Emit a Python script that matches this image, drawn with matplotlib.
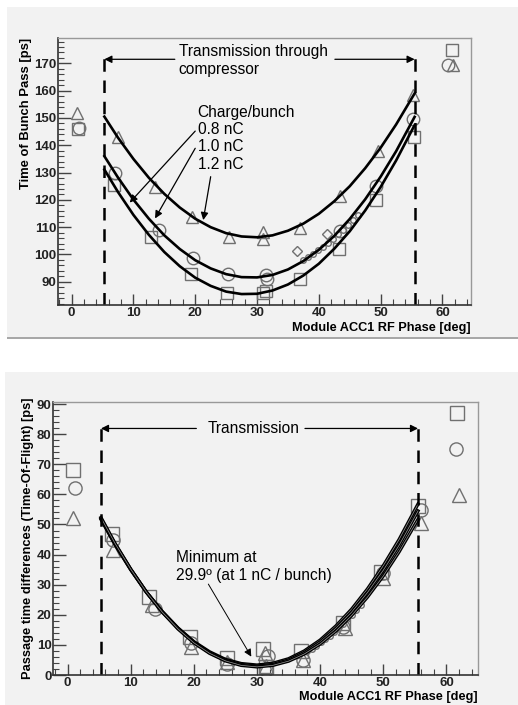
import matplotlib.pyplot as plt
from matplotlib.patches import Rectangle
from matplotlib.ticker import MultipleLocator

plt.rcParams['font.family'] = ['Liberation Sans', 'DejaVu Sans']

# --- upper panel: time of bunch pass ---
sq_x = [1.1, 6.9, 12.8, 19.3, 25.1, 31.0, 31.5, 36.9, 43.3, 49.3, 55.4, 61.5]
sq_y = [145.8, 125.4, 106.5, 92.8, 86.0, 86.0, 86.5, 91.2, 101.9, 119.9, 143.1, 174.9]
ci_x = [1.2, 7.0, 14.2, 19.6, 25.3, 31.5, 31.6, 43.4, 49.2, 55.3, 60.9]
ci_y = [146.2, 129.7, 108.9, 98.8, 92.8, 92.5, 91.2, 108.6, 125.2, 149.6, 169.4]
tr_x = [0.8, 7.5, 13.5, 19.4, 25.5, 31.0, 31.0, 36.9, 43.4, 49.6, 55.3, 61.7]
tr_y = [151.7, 142.9, 124.6, 113.8, 106.3, 108.3, 105.5, 109.8, 121.5, 137.9, 158.4, 169.4]
scan_x = [37.5, 38.3, 39.1, 39.9, 40.7, 41.5, 42.3, 43.1, 43.9, 44.7, 45.5, 46.3]
scan_y = [97.8, 99.0, 100.2, 101.5, 102.9, 104.3, 105.8, 107.4, 109.1, 110.9, 112.7, 114.5]
dia_x = [36.5, 41.3]
dia_y = [101.4, 107.4]

# fitted curves
fit_x = [5.3, 7.5, 10, 12.5, 15, 17.5, 20, 22.5, 25, 27.5, 30,
         32.5, 35, 37.5, 40, 42.5, 45, 47.5, 50, 52.5, 55.5]
fit_08 = [131.1, 122.9, 114.5, 107.2, 100.9, 95.7, 91.5, 88.5, 86.4, 85.5, 85.6,
          86.8, 89.0, 92.3, 96.6, 102.1, 108.5, 116.1, 124.7, 134.4, 147.4]
fit_10 = [136.0, 128.2, 120.1, 113.1, 107.0, 102.0, 97.9, 94.9, 92.8, 91.7, 91.6,
          92.5, 94.5, 97.6, 101.7, 106.8, 113.0, 120.2, 128.5, 137.8, 150.4]
fit_12 = [150.5, 142.8, 135.0, 128.1, 122.2, 117.2, 113.1, 110.0, 107.8, 106.6, 106.3,
          107.0, 108.7, 111.3, 114.9, 119.5, 125.0, 131.6, 139.1, 147.6, 159.0]

# --- lower panel: time-of-flight differences ---
sq2_x = [0.9, 7.0, 12.9, 19.4, 25.2, 31.0, 31.4, 37.0, 43.6, 49.7, 55.5, 61.7]
sq2_y = [68.1, 46.8, 25.8, 12.7, 5.5, 8.5, 2.5, 8.1, 17.2, 34.3, 56.2, 86.9]
ci2_x = [1.2, 7.2, 13.8, 19.6, 25.3, 31.8, 31.4, 37.3, 43.6, 49.9, 55.9, 61.5]
ci2_y = [62.0, 44.8, 21.8, 10.5, 3.7, 6.3, 1.5, 5.0, 16.1, 33.8, 54.8, 75.0]
tr2_x = [0.9, 7.2, 13.3, 19.6, 25.3, 31.2, 31.5, 37.3, 43.9, 50.0, 55.9, 62.0]
tr2_y = [52.0, 41.5, 23.2, 9.4, 4.4, 7.4, 3.0, 5.0, 15.5, 32.1, 50.4, 59.8]
scan2_x = [38.0, 38.7, 39.4, 40.1, 40.8, 41.5, 42.2, 42.9, 43.6, 44.3, 45.0, 45.7, 46.4]
scan2_y = [8.0, 8.8, 9.8, 10.8, 11.9, 13.1, 14.3, 15.6, 17.0, 18.5, 20.0, 21.6, 23.3]
tof_a = [51.7, 43.4, 35.0, 27.5, 21.1, 15.6, 11.1, 7.7, 5.2, 3.8, 3.3,
         3.9, 5.4, 8.0, 11.6, 16.3, 21.9, 28.6, 36.3, 45.0, 56.8]
tof_b = [52.0, 43.6, 35.1, 27.5, 21.0, 15.5, 10.9, 7.4, 4.9, 3.5, 3.0,
         3.5, 5.0, 7.5, 11.0, 15.5, 20.9, 27.4, 34.8, 43.1, 54.5]
tof_c = [52.3, 43.8, 35.2, 27.5, 20.9, 15.3, 10.7, 7.2, 4.7, 3.2, 2.7,
         3.2, 4.6, 7.0, 10.3, 14.6, 19.8, 25.9, 32.9, 40.9, 51.7]

edge_lo, edge_hi = 5.3, 55.5
mc = '#707070'
bg = '#f2f2f2'

fig = plt.figure(figsize=(5.18, 7.05), dpi=100)
fig.patches.append(Rectangle((0.0135, 0.5206), 0.9865, 0.4695, transform=fig.transFigure,
                             facecolor=bg, edgecolor='none', zorder=-10))
fig.patches.append(Rectangle((0.0135, 0.5192), 0.9865, 0.0025, transform=fig.transFigure,
                             facecolor='#a8a8a8', edgecolor='none', zorder=-10))
fig.patches.append(Rectangle((0.0097, 0.0), 0.9903, 0.4723, transform=fig.transFigure,
                             facecolor=bg, edgecolor='none', zorder=-10))

ax1 = fig.add_axes([0.112, 0.5674, 0.797, 0.3787])
ax2 = fig.add_axes([0.1023, 0.04255, 0.8205, 0.3877])


def style_axes(ax, xlab_y, xlab_va):
    ax.set_facecolor(bg)
    for s in ['left', 'bottom']:
        ax.spines[s].set_color('#333333')
        ax.spines[s].set_linewidth(1.2)
    for s in ['top', 'right']:
        ax.spines[s].set_color('#999999')
        ax.spines[s].set_linewidth(1.0)
    ax.xaxis.set_major_locator(MultipleLocator(10))
    ax.xaxis.set_minor_locator(MultipleLocator(2))
    ax.yaxis.set_major_locator(MultipleLocator(10))
    ax.yaxis.set_minor_locator(MultipleLocator(2))
    ax.tick_params(which='both', direction='in', top=False, right=False, color='#444444')
    ax.tick_params(axis='y', which='major', length=9, width=1.0, pad=1)
    ax.tick_params(axis='y', which='minor', length=4.5, width=0.8)
    ax.tick_params(axis='x', which='major', length=8, width=1.0, pad=1.5)
    ax.tick_params(axis='x', which='minor', length=4, width=0.8)
    for lab in ax.get_xticklabels() + ax.get_yticklabels():
        lab.set_fontweight('bold')
        lab.set_fontsize(9.5)
        lab.set_color('#222222')
    ax.set_xlabel('Module ACC1 RF Phase [deg]', fontsize=9.2, fontweight='bold',
                  ha='right', va=xlab_va)
    ax.xaxis.set_label_coords(1.0, xlab_y)


def arrow(ax, start, end, lw=0.9):
    ax.annotate('', xy=end, xytext=start,
                arrowprops=dict(arrowstyle='-|>', color='k', lw=lw,
                                mutation_scale=11, shrinkA=0, shrinkB=0))


mk = dict(linestyle='none', markerfacecolor='none', markeredgecolor=mc, markeredgewidth=1.0)

# upper panel
ax1.plot(sq_x, sq_y, marker='s', markersize=9, **mk)
ax1.plot(ci_x, ci_y, marker='o', markersize=9, **mk)
ax1.plot(tr_x, tr_y, marker='^', markersize=9, **mk)
ax1.plot(scan_x, scan_y, marker='o', markersize=4, **mk)
ax1.plot(dia_x, dia_y, marker='D', markersize=5, **mk)
for y in [fit_08, fit_10, fit_12]:
    ax1.plot(fit_x, y, color='k', lw=1.9)
for xv in [edge_lo, edge_hi]:
    ax1.plot([xv, xv], [81.5, 173.7], color='k', lw=1.8, dashes=(5, 3.5))
arrow(ax1, (16.7, 171.5), (edge_lo, 171.5))
arrow(ax1, (42.6, 171.5), (edge_hi, 171.5))
ax1.text(17.3, 174.3, 'Transmission through', fontsize=11.2, va='center', ha='left')
ax1.text(17.3, 167.8, 'compressor', fontsize=11.2, va='center', ha='left')
for txt, yy in [('Charge/bunch', 151.9), ('0.8 nC', 145.6), ('1.0 nC', 139.5), ('1.2 nC', 133.0)]:
    ax1.text(20.4, yy, txt, fontsize=11.2, va='center', ha='left')
arrow(ax1, (20.0, 145.2), (9.4, 119.0))
arrow(ax1, (20.0, 138.9), (13.5, 113.2))
arrow(ax1, (22.5, 128.5), (21.3, 112.6))
ax1.set_xlim(-2.2, 64.6)
ax1.set_ylim(81.5, 179.3)
style_axes(ax1, -0.063, 'top')
ax1.set_ylabel('Time of Bunch Pass [ps]', fontsize=9.4, fontweight='bold', loc='top', labelpad=2)

# lower panel
ax2.plot(sq2_x, sq2_y, marker='s', markersize=9.5, **mk)
ax2.plot(ci2_x, ci2_y, marker='o', markersize=9.5, **mk)
ax2.plot(tr2_x, tr2_y, marker='^', markersize=9.5, **mk)
ax2.plot(scan2_x, scan2_y, marker='o', markersize=4, **mk)
for y in [tof_a, tof_b, tof_c]:
    ax2.plot(fit_x, y, color='k', lw=2.4)
    ax2.plot(fit_x, y, color='#9a9a9a', lw=0.5)
for xv in [edge_lo, edge_hi]:
    ax2.plot([xv, xv], [0, 83.0], color='k', lw=1.8, dashes=(5, 3.5))
arrow(ax2, (20.4, 81.9), (edge_lo, 81.9))
arrow(ax2, (37.6, 81.9), (edge_hi, 81.9))
ax2.text(29.4, 81.9, 'Transmission', fontsize=11.2, va='center', ha='center')
ax2.text(17.15, 39.1, 'Minimum at', fontsize=11.2, va='center', ha='left')
ax2.text(17.15, 33.2, '29.9º (at 1 nC / bunch)', fontsize=11.2, va='center', ha='left')
arrow(ax2, (22.3, 30.2), (29.1, 6.1), lw=0.7)
ax2.set_xlim(-2.3, 65.0)
ax2.set_ylim(0, 90.8)
style_axes(ax2, -0.1035, 'bottom')
ax2.set_ylabel('Passage time differences (Time-Of-Flight) [ps]', fontsize=9.3,
               fontweight='bold', labelpad=2)

plt.savefig('out.png', dpi=100, facecolor='white')
